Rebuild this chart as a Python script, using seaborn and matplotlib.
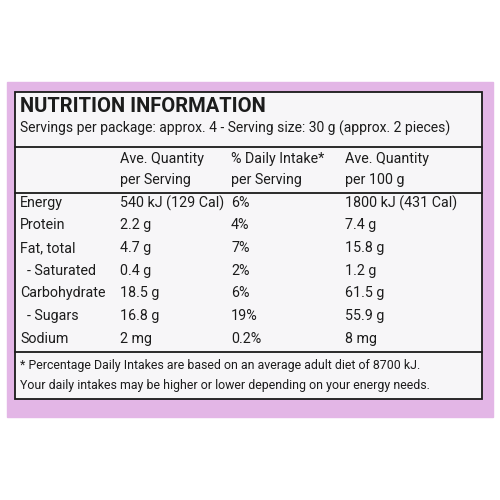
import matplotlib
matplotlib.use("Agg")
import matplotlib.pyplot as plt
import seaborn as sns
from matplotlib.patches import Rectangle

sns.set_style("white")
plt.rcParams['font.family'] = ['Roboto', 'DejaVu Sans']

title = "NUTRITION INFORMATION"
subtitle = "Servings per package: approx. 4 - Serving size: 30 g (approx. 2 pieces)"
headers = [["", ""], ["Ave. Quantity", "per Serving"], ["% Daily Intake*", "per Serving"], ["Ave. Quantity", "per 100 g"]]
nutrients = ["Energy", "Protein", "Fat, total", "  - Saturated", "Carbohydrate", "  - Sugars", "Sodium"]
per_serving = ["540 kJ (129 Cal)", "2.2 g", "4.7 g", "0.4 g", "18.5 g", "16.8 g", "2 mg"]
daily_intake = ["6%", "4%", "7%", "2%", "6%", "19%", "0.2%"]
per_100g = ["1800 kJ (431 Cal)", "7.4 g", "15.8 g", "1.2 g", "61.5 g", "55.9 g", "8 mg"]
footnote = ["* Percentage Daily Intakes are based on an average adult diet of 8700 kJ.",
            "Your daily intakes may be higher or lower depending on your energy needs."]

fig = plt.figure(figsize=(5, 5), dpi=100)
ax = fig.add_axes([0, 0, 1, 1])
ax.set_xlim(0, 500)
ax.set_ylim(500, 0)
ax.axis("off")

ax.add_patch(Rectangle((7, 82), 486, 335, color="#e3b6e6", zorder=0))
ax.add_patch(Rectangle((15, 92), 467, 307, facecolor="#f7f6f8", edgecolor="#1a1a1a", lw=1.3, zorder=1))
for y in [147, 193, 352]:
    ax.plot([15, 482], [y, y], color="#1a1a1a", lw=1.3, zorder=2)

tc = "#1c1c1c"
fs = 10.3
ax.text(20, 107, title, fontsize=14.5, fontweight="bold", va="center", color=tc)
ax.text(20, 128, subtitle, fontsize=10, va="center", color=tc)
cols = [20, 120, 231, 345]
for x, h in zip(cols, headers):
    ax.text(x, 159, h[0], fontsize=fs, va="center", color=tc)
    ax.text(x, 180, h[1], fontsize=fs, va="center", color=tc)
rows = [203, 225, 248, 271, 293, 316, 339]
for i, y in enumerate(rows):
    ax.text(cols[0], y, nutrients[i], fontsize=fs, va="center", color=tc)
    ax.text(cols[1], y, per_serving[i], fontsize=fs, va="center", color=tc)
    ax.text(cols[2], y, daily_intake[i], fontsize=fs, va="center", color=tc)
    ax.text(cols[3], y, per_100g[i], fontsize=fs, va="center", color=tc)
ax.text(20, 365, footnote[0], fontsize=8.9, va="center", color=tc)
ax.text(20, 385, footnote[1], fontsize=8.9, va="center", color=tc)

fig.savefig("out.png", dpi=100, facecolor="white")
